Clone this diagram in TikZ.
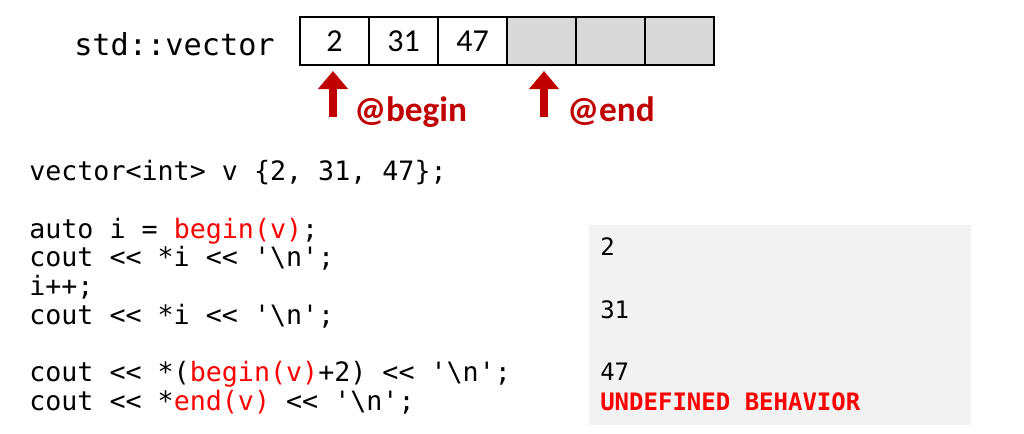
\documentclass[tikz,border=0pt]{standalone}
\usepackage{fontspec}
\setmainfont{Carlito}
\setmonofont{DejaVu Sans Mono}
\usetikzlibrary{arrows.meta}
\definecolor{darkred}{HTML}{C00000}
\definecolor{cellgray}{HTML}{D9D9D9}
\definecolor{panelgray}{HTML}{F2F2F2}

\begin{document}
\begin{tikzpicture}[x=0.75pt,y=-0.75pt,
                    cell node/.style={draw,line width=1.5pt,minimum width=51.75pt,minimum height=36pt,inner sep=0pt,font=\fontsize{24}{28}\selectfont},
                    code line/.style={anchor=base west,inner sep=0pt,font=\ttfamily\fontsize{20}{24}\selectfont},
                    out line/.style={anchor=base west,inner sep=0pt,font=\ttfamily\fontsize{18}{22}\selectfont},
                    ptr/.style={darkred,line width=6pt,-{Triangle[width=21.75pt,length=13.5pt]},shorten >=3.75pt},
                    ptr label/.style={anchor=base west,inner sep=0pt,text=darkred,font=\bfseries\fontsize{26.5}{30}\selectfont}]

          \useasboundingbox (0,0) rectangle (1024,433);

          \node[anchor=base west,inner sep=0pt,font=\ttfamily\fontsize{22.7}{27}\selectfont] (name) at (74,55) {std::vector};

          \foreach \i/\v in {0/2,1/31,2/47}
            \node[cell node] (c\i) at (334.5+69*\i,41) {\v};
          \foreach \i in {3,4,5}
            \node[cell node,fill=cellgray] (c\i) at (334.5+69*\i,41) {};

          \coordinate (bt) at (333,117);
          \coordinate (et) at (544,117);
          \draw[ptr] (bt) -- (bt |- c0.south);
          \draw[ptr] (et) -- (et |- c3.south);
          \node[ptr label] (bl) at (354,121) {@begin};
          \node[ptr label] (el) at (567,121) {@end};

          \foreach \i/\txt in {0/{vector<int> v \{2, 31, 47\};},
                               2/{auto i = \textcolor{red}{begin(v)};},
                               3/{cout << *i << '\textbackslash n';},
                               4/{i++;},
                               5/{cout << *i << '\textbackslash n';},
                               7/{cout << *(\textcolor{red}{begin(v)}+2) << '\textbackslash n';},
                               8/{cout << *\textcolor{red}{end(v)} << '\textbackslash n';}}
            \node[code line] (l\i) at (29,180.5+28.75*\i) {\txt};

          \fill[panelgray] (589,225) rectangle (971,425);
          \node[out line] (o1) at (600,255) {2};
          \node[out line] (o2) at (600,318) {31};
          \node[out line] (o3) at (600,380) {47};
          \node[out line,text=red,font=\ttfamily\bfseries\fontsize{18}{22}\selectfont] (o4) at (600,410) {UNDEFINED BEHAVIOR};

\end{tikzpicture}
\end{document}
